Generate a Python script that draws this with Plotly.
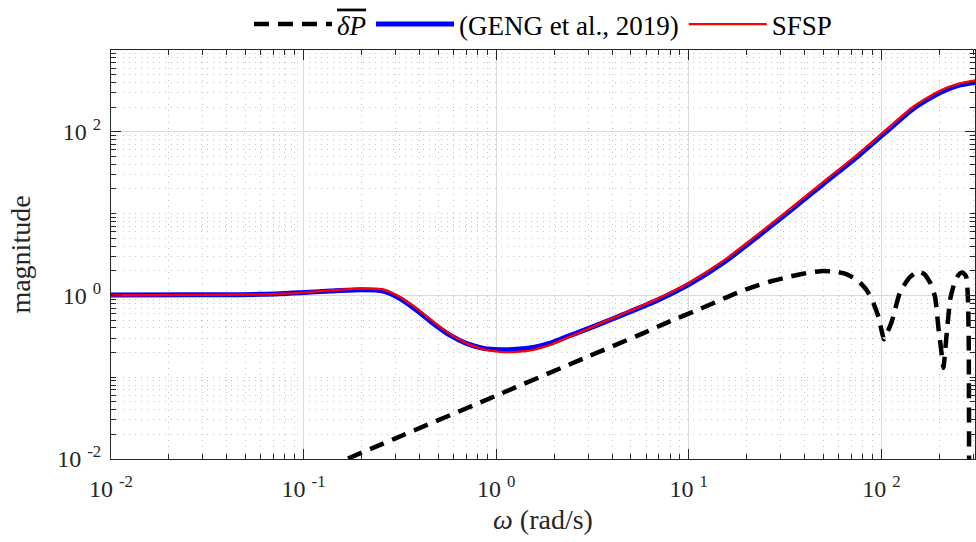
import plotly.graph_objects as go

# ---- data ----
omega = [0.01, 0.0291, 0.0596, 0.0962, 0.138, 0.197, 0.259, 0.318, 0.388, 0.473,
         0.578, 0.705, 0.861, 1.05, 1.28, 1.56, 1.91, 2.33, 2.84, 3.47,
         4.59, 6.84, 10.2, 15.2, 22.6, 33.7, 50.1, 74.6, 105, 147,
         202, 257, 307]

geng_mag = [1.01, 1.02, 1.03, 1.08, 1.13, 1.17, 1.13, 0.91, 0.656, 0.451,
            0.324, 0.257, 0.225, 0.217, 0.219, 0.231, 0.261, 0.313, 0.373, 0.448,
            0.586, 0.869, 1.40, 2.53, 5.16, 10.9, 23.2, 49.1, 98.4, 193,
            303, 374, 402]

sfsp_mag = [1.0, 1.014, 1.028, 1.073, 1.151, 1.207, 1.184, 0.95, 0.69, 0.474,
            0.336, 0.259, 0.219, 0.204, 0.204, 0.216, 0.248, 0.302, 0.368, 0.455,
            0.60, 0.90, 1.46, 2.66, 5.45, 11.5, 24.5, 52.0, 104, 204,
            320, 392, 425]

omega_dp = [0.1, 0.3, 1.0, 3.0, 5.82, 7.71, 11.5, 15.8, 19.0, 22.6,
            27.0, 33.6, 42, 48.2, 57, 66.2, 76, 84.1, 91, 96.6,
            100, 103, 106, 113, 125, 140, 150, 159, 168, 180,
            190, 198, 206, 210, 214, 219, 228, 240, 250, 260,
            268, 276, 281, 284, 286]
dp_mag = [0.00595, 0.0179, 0.0595, 0.179, 0.346, 0.465, 0.687, 0.953, 1.14, 1.32,
          1.50, 1.70, 1.90, 1.98, 1.96, 1.81, 1.5, 1.15, 0.8, 0.543,
          0.38, 0.29, 0.33, 0.472, 1.10, 1.65, 1.88, 1.93, 1.8, 1.4,
          0.955, 0.392, 0.185, 0.13, 0.2, 0.373, 0.911, 1.45, 1.75, 1.9,
          1.85, 1.67, 1.0, 0.3, 0.0001]

x_tickvals = [0.01, 0.1, 1, 10, 100]
x_ticktext = ["10 <sup>-2</sup>", "10 <sup>-1</sup>", "10 <sup>0</sup>",
              "10 <sup>1</sup>", "10 <sup>2</sup>"]
y_tickvals = [0.01, 1, 100]
y_ticktext = ["10 <sup>-2</sup>", "10 <sup>0</sup>", "10 <sup>2</sup>"]

x_minor = [k * 10 ** e for e in range(-2, 3) for k in range(2, 10)]
y_minor = [k * 10 ** e for e in range(-2, 3) for k in range(2, 10)] + [0.1, 10]

FONT = "Liberation Serif"
AX = "#262626"

fig = go.Figure()
fig.add_trace(go.Scatter(
    x=omega_dp, y=dp_mag, mode="lines",
    name='<i><span style="text-decoration:overline">δP</span></i>',
    line=dict(color="black", width=4.5, dash="15px,9px", shape="spline", smoothing=0.5)))
fig.add_trace(go.Scatter(
    x=omega, y=geng_mag, mode="lines", name="(GENG et al., 2019)",
    line=dict(color="#0000ff", width=5, shape="spline", smoothing=0.6)))
fig.add_trace(go.Scatter(
    x=omega, y=sfsp_mag, mode="lines", name="SFSP",
    line=dict(color="#ff0000", width=2.3, shape="spline", smoothing=0.6)))

axis_common = dict(
    type="log", showline=True, linecolor=AX, linewidth=1, mirror="allticks",
    ticks="inside", ticklen=10, tickwidth=1, tickcolor=AX,
    showgrid=True, gridcolor="#dcdcdc", gridwidth=1, zeroline=False,
    tickfont=dict(family=FONT, size=24, color=AX),
    minor=dict(ticks="inside", ticklen=5, tickwidth=1, tickcolor=AX,
               showgrid=True, gridcolor="#c2c2c2", griddash="1px,5px", gridwidth=1),
)

fig.update_xaxes(**axis_common)
fig.update_xaxes(range=[-2, 2.486], tickmode="array", tickvals=x_tickvals,
                 ticktext=x_ticktext, minor_tickmode="array", minor_tickvals=x_minor,
                 ticklabelstandoff=8,
                 title=dict(text="<i>ω</i> (rad/s)", font=dict(family=FONT, size=28, color=AX),
                            standoff=8))
fig.update_yaxes(**axis_common)
fig.update_yaxes(range=[-2, 3], tickmode="array", tickvals=y_tickvals,
                 ticktext=y_ticktext, minor_tickmode="array", minor_tickvals=y_minor,
                 ticklabelstandoff=4,
                 title=dict(text="magnitude", font=dict(family=FONT, size=28, color=AX),
                            standoff=18))

fig.update_layout(
    width=976, height=542,
    margin=dict(l=111, r=1, t=50, b=83, autoexpand=False),
    paper_bgcolor="white", plot_bgcolor="white",
    font=dict(family=FONT, size=27, color="black"),
    legend=dict(orientation="h", x=0.5, xanchor="center",
                yref="container", y=1.0, yanchor="top",
                font=dict(family=FONT, size=27, color="black"),
                bgcolor="rgba(0,0,0,0)", itemwidth=78, tracegroupgap=0),
    showlegend=True,
)

fig.write_html("out.html")
